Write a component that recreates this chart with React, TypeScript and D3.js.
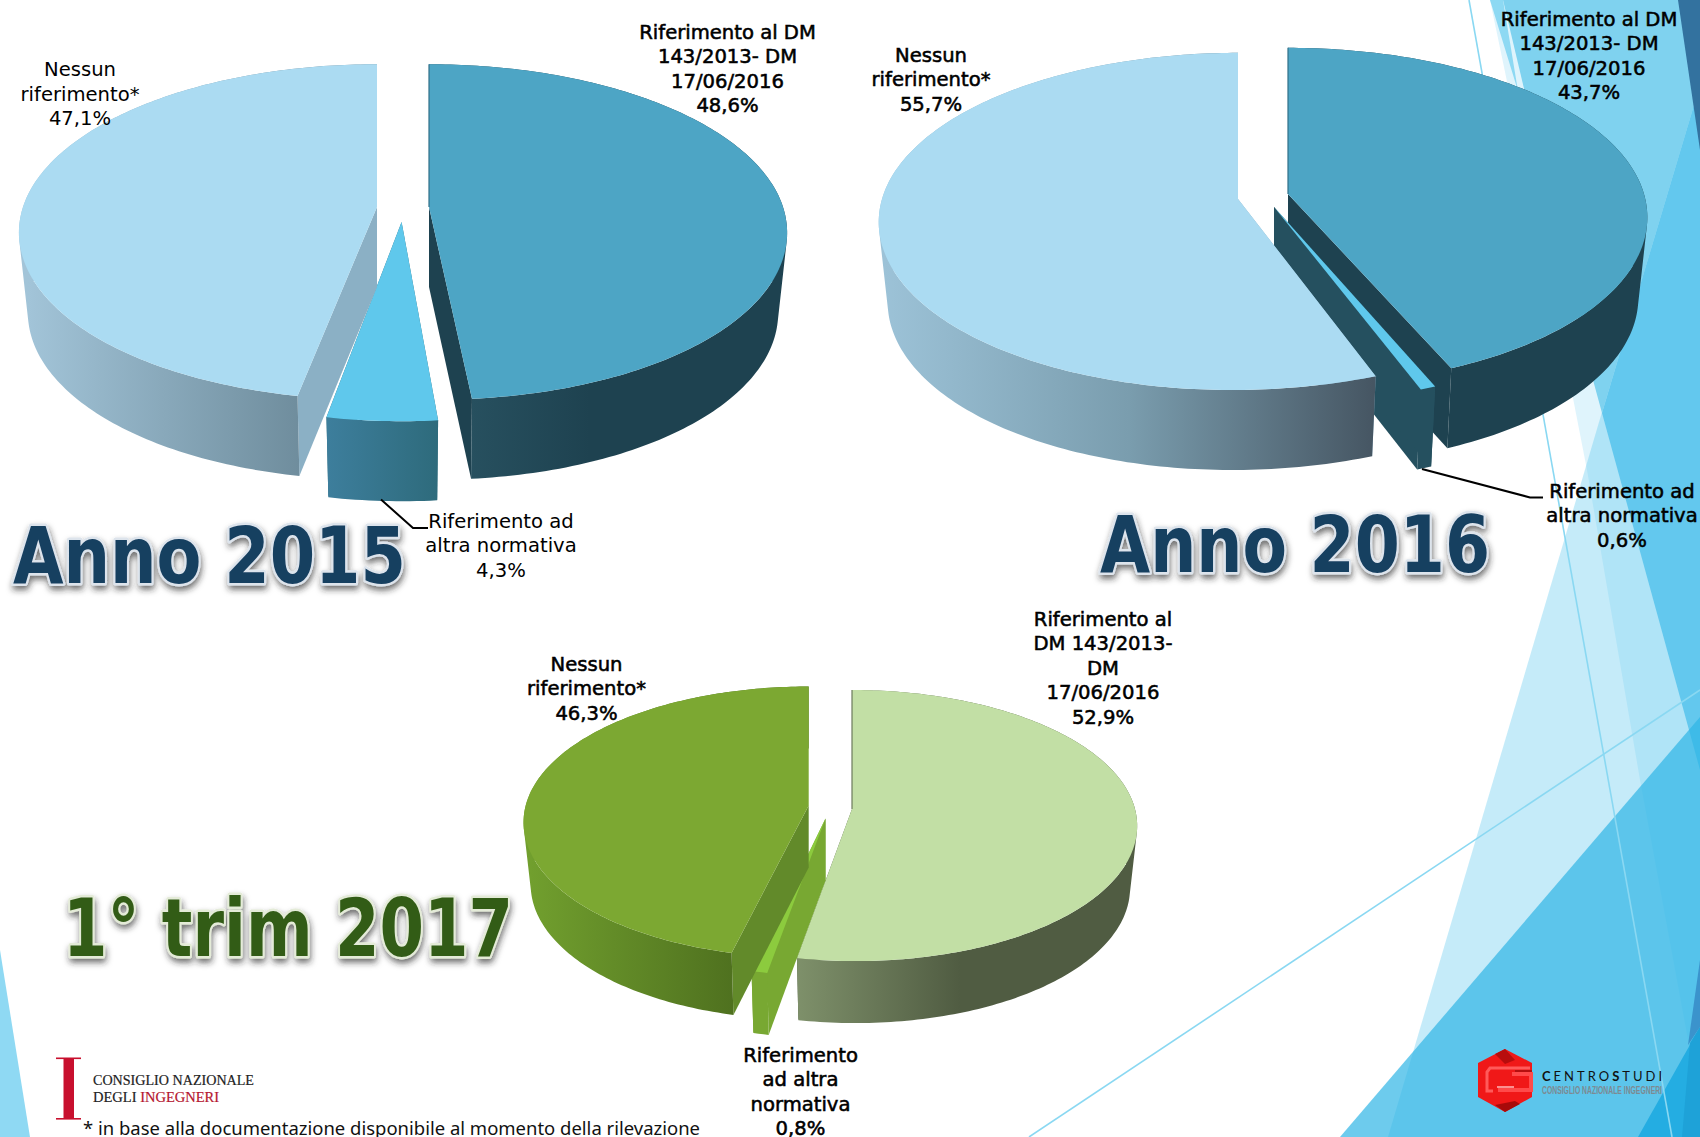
import React from "react";
import * as d3 from "d3";

// ---- data ----
const categories = ["Riferimento al DM 143/2013- DM 17/06/2016", "Riferimento ad altra normativa", "Nessun riferimento*"];
const values2015 = [48.6, 4.3, 47.1];
const values2016 = [43.7, 0.6, 55.7];
const values2017 = [52.9, 0.8, 46.3];
const titles = ["Anno 2015", "Anno 2016", "1° trim 2017"];
const labels2015 = [["Riferimento al DM", "143/2013- DM", "17/06/2016", "48,6%"], ["Riferimento ad", "altra normativa", "4,3%"], ["Nessun", "riferimento*", "47,1%"]];
const labels2016 = [["Riferimento al DM", "143/2013- DM", "17/06/2016", "43,7%"], ["Riferimento ad", "altra normativa", "0,6%"], ["Nessun", "riferimento*", "55,7%"]];
const labels2017 = [["Riferimento al", "DM 143/2013-", "DM", "17/06/2016", "52,9%"], ["Riferimento", "ad altra", "normativa", "0,8%"], ["Nessun", "riferimento*", "46,3%"]];
const footnote = "* in base alla documentazione disponibile al momento della rilevazione";

// ---- layout ----
type Grad = { x1: number; x2: number; stops: [number, string][] };
type SliceStyle = { apex: [number, number]; top: string; cut: string; wall: Grad; kx?: number; ky?: number; sh?: number; rim?: string };
type PieCfg = {
  id: string; values: number[]; labels: string[][];
  p: number; rx: number; ry: number; depth: number;
  slices: SliceStyle[];
  labelPos: { x: number; y: number; weight: number }[];
};

const pies: PieCfg[] = [
  {
    id: "a", values: values2015, labels: labels2015, p: 0.1488, rx: 354, ry: 164, depth: 80,
    slices: [
      { apex: [429, 207], sh: 6.5, rim: "#2f6f88", top: "#4da5c5", cut: "#1e4250", wall: { x1: 470, x2: 590, stops: [[0, "#27505f"], [1, "#1e4250"]] } },
      { apex: [401.6, 222], ky: 1.034, top: "#5fc8ec", cut: "#2e6b7c", wall: { x1: 328, x2: 437, stops: [[0, "#3d7e9c"], [1, "#2e6b7c"]] } },
      { apex: [377, 207], sh: -4.5, top: "#abdbf2", cut: "#8bb0c5", wall: { x1: 28, x2: 300, stops: [[0, "#a2c4d8"], [1, "#6f8d9d"]] } },
    ],
    labelPos: [{ x: 727.5, y: 38.5, weight: 0.55 }, { x: 501, y: 527.5, weight: 0 }, { x: 80, y: 76, weight: 0 }],
  },
  {
    id: "b", values: values2016, labels: labels2016, p: 0.133, rx: 356, ry: 165.6, depth: 80,
    slices: [
      { apex: [1288, 194], sh: 8, rim: "#2f6f88", top: "#4da5c5", cut: "#1e4250", wall: { x1: 1440, x2: 1640, stops: [[0, "#1e4250"], [1, "#1e4250"]] } },
      { apex: [1274, 207], kx: 1.03, ky: 1.03, top: "#5fc8ec", cut: "#25505f", wall: { x1: 1419, x2: 1433, stops: [[0, "#25505f"], [1, "#25505f"]] } },
      { apex: [1238, 199], sh: -5.5, top: "#abdbf2", cut: "#8bb0c5", wall: { x1: 885, x2: 1373, stops: [[0, "#9cc2d7"], [0.5, "#7a9dae"], [1, "#465663"]] } },
    ],
    labelPos: [{ x: 1589, y: 25.5, weight: 0.55 }, { x: 1622, y: 497.5, weight: 0.55 }, { x: 931, y: 61.5, weight: 0.55 }],
  },
  {
    id: "c", values: values2017, labels: labels2017, p: 0.122, rx: 283, ry: 133.5, depth: 62,
    slices: [
      { apex: [852, 809], sh: 3.3, rim: "#6c7a5c", top: "#c2dfa5", cut: "#505c42", wall: { x1: 798, x2: 960, stops: [[0, "#7e906a"], [1, "#505c42"]] } },
      { apex: [825.5, 818.5], ky: 1.035, top: "#8ccb3e", cut: "#78a832", wall: { x1: 750, x2: 767, stops: [[0, "#78a832"], [1, "#78a832"]] } },
      { apex: [808.7, 805.5], sh: -3.3, top: "#7ca832", cut: "#628a2a", wall: { x1: 530, x2: 733, stops: [[0, "#719f2e"], [1, "#4f711f"]] } },
    ],
    labelPos: [{ x: 1103, y: 625.5, weight: 0.55 }, { x: 800.5, y: 1061.5, weight: 0.55 }, { x: 586.5, y: 670.5, weight: 0.55 }],
  },
];

const titleCfg = [
  { x: 13, y: 583, w: 393, size: 78, fill: "#183f60", edge: "#dde4ec" },
  { x: 1100, y: 572, w: 390, size: 78, fill: "#183f60", edge: "#dde4ec" },
  { x: 63, y: 956, w: 450, size: 80, fill: "#335c18", edge: "#e4ebd8" },
];

const LABEL_FONT = "'DejaVu Sans', sans-serif";
const pieGen = d3.pie<number>().sort(null).value((d) => d).startAngle(0).endAngle(2 * Math.PI);
const lineGen = d3.line<[number, number]>();

function project(cfg: PieCfg, s: SliceStyle, angle: number, bottom: boolean): [number, number] {
  const u = Math.sin(angle);
  const v = -Math.cos(angle);
  const w = 1 - cfg.p * v;
  const sx = bottom ? 0.975 : 1;
  const shear = v > 0 ? (s.sh ?? 0) * v * v : 0;
  return [
    s.apex[0] + (s.kx ?? 1) * ((sx * cfg.rx * u) / w) + shear,
    s.apex[1] + (bottom ? cfg.depth : 0) + (s.ky ?? 1) * ((cfg.ry * v) / w),
  ];
}

function arcPts(cfg: PieCfg, s: SliceStyle, a0: number, a1: number, bottom: boolean) {
  const n = Math.max(2, Math.ceil(((a1 - a0) * 180) / Math.PI));
  return d3.range(n + 1).map((i) => project(cfg, s, a0 + ((a1 - a0) * i) / n, bottom));
}

// the outer wall as a union of consistently wound quads, so the silhouette tangents are filled
function wallPath(top: [number, number][], bot: [number, number][]) {
  const parts: string[] = [];
  for (let i = 0; i < top.length - 1; i++) {
    const q: [number, number][] = [top[i], top[i + 1], bot[i + 1], bot[i]];
    if (d3.polygonArea(q) < 0) q.reverse();
    parts.push(lineGen(q) + "Z");
  }
  return parts.join("");
}

function Pie({ cfg }: { cfg: PieCfg }) {
  const arcs = pieGen(cfg.values);
  return (
    <g>
      <defs>
        {cfg.slices.map((s, i) => (
          <linearGradient key={i} id={`wall-${cfg.id}-${i}`} gradientUnits="userSpaceOnUse" x1={s.wall.x1} x2={s.wall.x2} y1={0} y2={0}>
            {s.wall.stops.map(([o, c], j) => <stop key={j} offset={o} stopColor={c} />)}
          </linearGradient>
        ))}
      </defs>
      {arcs.map((a, i) => {
        const s = cfg.slices[i];
        const apexB: [number, number] = [s.apex[0], s.apex[1] + cfg.depth];
        const top = arcPts(cfg, s, a.startAngle, a.endAngle, false);
        const bot = arcPts(cfg, s, a.startAngle, a.endAngle, true);
        const face = (k: number) => lineGen([s.apex, top[k], bot[k], apexB]) + "Z";
        return (
          <g key={i}>
            <path d={face(top.length - 1)} fill={s.cut} />
            <path d={face(0)} fill={s.cut} />
            <path d={wallPath(top, bot)} fill={`url(#wall-${cfg.id}-${i})`} />
            <path d={lineGen([s.apex, ...top]) + "Z"} fill={s.top} />
            {s.rim && <path d={lineGen([s.apex, top[0]]) ?? ""} stroke={s.rim} strokeWidth={1.2} fill="none" />}
          </g>
        );
      })}
      {cfg.labels.map((lines, i) => (
        <g key={i}>
          {lines.map((t, j) => (
            <text key={j} x={cfg.labelPos[i].x} y={cfg.labelPos[i].y + j * 24.5} textAnchor="middle"
              fontFamily={LABEL_FONT} fontSize={19.6} fill="#000" stroke="#000" strokeWidth={cfg.labelPos[i].weight}>{t}</text>
          ))}
        </g>
      ))}
    </g>
  );
}

const poly = (pts: number[][]) => pts.map((p) => p.join(",")).join(" ");

export default function App() {
  return (
    <svg width={1700} height={1137} viewBox="0 0 1700 1137" style={{ position: "absolute", left: 0, top: 0, display: "block", background: "#fff" }}>
      <defs>
        <filter id="ts" x="-10%" y="-30%" width="120%" height="170%">
          <feDropShadow dx={1} dy={4} stdDeviation={3} floodColor="#222" floodOpacity={0.65} />
        </filter>
      </defs>
      {/* background decoration */}
      <polygon points={poly([[0, 950], [30, 1137], [0, 1137]])} fill="#8fd9f3" />
      <polygon points={poly([[1490, 0], [1700, 0], [1700, 1105], [1640, 780], [1587, 470], [1572, 393]])} fill="#5fc8ee" opacity={0.2} />
      <polygon points={poly([[1700, 80], [1700, 1137], [1388, 1137]])} fill="#5fc8ee" opacity={0.36} />
      <polygon points={poly([[1490, 0], [1503, 0], [1517, 85], [1530, 130]])} fill="#8dd9f3" />
      <polygon points={poly([[1503, 0], [1700, 0], [1700, 85], [1602, 413], [1593, 380]])} fill="#7fd2ef" />
      <polygon points={poly([[1700, 85], [1700, 770], [1602, 413]])} fill="#63c8ee" />
      <polygon points={poly([[1678, 0], [1700, 0], [1700, 150]])} fill="#33729f" />
      <polygon points={poly([[1340, 1137], [1700, 717], [1700, 1137]])} fill="#2fb5e6" opacity={0.7} />
      <polygon points={poly([[1638, 1137], [1700, 1027], [1700, 1137]])} fill="#24ade2" />
      <polygon points={poly([[1682, 1137], [1690, 1043], [1700, 1027], [1700, 1137]])} fill="#1ea2d8" />
      <polygon points={poly([[1700, 960], [1688, 1045], [1700, 1027]])} fill="#3b93cc" />
      <line x1={1469} y1={0} x2={1672} y2={1137} stroke="#8ad8f2" strokeWidth={1.6} />
      <line x1={1029} y1={1137} x2={1700} y2={690} stroke="#8ad8f2" strokeWidth={1.6} />

      {pies.map((p) => <Pie key={p.id} cfg={p} />)}

      {/* leader lines */}
      <polyline points={poly([[381, 499.5], [413, 528], [428, 528]])} fill="none" stroke="#000" strokeWidth={2} />
      <polyline points={poly([[1422, 469], [1530, 497.5], [1543, 497.5]])} fill="none" stroke="#000" strokeWidth={2.2} />

      {/* titles */}
      {titles.map((t, i) => {
        const c = titleCfg[i];
        return (
          <g key={t} filter="url(#ts)">
            <text x={c.x} y={c.y} fontFamily={LABEL_FONT} fontWeight={700} fontSize={c.size} textLength={c.w} lengthAdjust="spacingAndGlyphs"
              fill={c.fill} stroke={c.edge} strokeWidth={5} strokeLinejoin="round" style={{ paintOrder: "stroke" }}>{t}</text>
          </g>
        );
      })}

      {/* footer left */}
      <g fill="#c8102e">
        <rect x={56} y={1057.5} width={25} height={1.6} />
        <rect x={56} y={1118} width={25} height={1.6} />
        <rect x={63.5} y={1058} width={10.5} height={61} />
      </g>
      <text x={93} y={1085} fontFamily="'Liberation Serif', serif" fontSize={14.5} textLength={161} lengthAdjust="spacingAndGlyphs" fill="#222" stroke="#222" strokeWidth={0.2}>CONSIGLIO NAZIONALE</text>
      <text x={93} y={1102} fontFamily="'Liberation Serif', serif" fontSize={14.5} fill="#222" stroke="#222" strokeWidth={0.2}>DEGLI <tspan fill="#b5162f" stroke="#b5162f">INGEGNERI</tspan></text>
      <text x={83} y={1135} fontFamily="'Noto Sans', sans-serif" fontSize={18} textLength={617} lengthAdjust="spacingAndGlyphs" fill="#111">{footnote}</text>

      {/* footer right */}
      <polygon points={poly([[1505, 1049], [1532, 1063], [1532, 1097], [1505, 1112], [1478, 1097], [1478, 1063]])} fill="#f01818" />
      <polygon points={poly([[1505, 1049], [1495, 1054], [1505, 1064], [1515, 1060]])} fill="#b80d0d" />
      <polygon points={poly([[1505, 1112], [1495, 1105], [1515, 1101], [1520, 1104]])} fill="#a80a0a" />
      <polyline points={poly([[1530, 1068], [1490, 1068], [1487, 1072], [1487, 1091], [1493, 1091]])} fill="none" stroke="#ff5a5a" strokeWidth={3} />
      <polyline points={poly([[1512, 1074], [1531, 1074], [1531, 1090], [1498, 1090]])} fill="none" stroke="#ff4a4a" strokeWidth={4} />
      <polyline points={poly([[1515, 1071], [1532, 1071]])} fill="none" stroke="#8e0b0b" strokeWidth={1.2} />
      <polyline points={poly([[1497, 1087], [1514, 1087]])} fill="none" stroke="#ffc6c6" strokeWidth={1.4} />
      <text x={1542} y={1081} fontFamily="Lato, sans-serif" fontSize={13} letterSpacing={3} fill="#111">
        <tspan fontWeight={700}>C</tspan>ENTRO<tspan fontWeight={700}>S</tspan>TUDI
      </text>
      <text x={1542} y={1094} fontFamily="'Liberation Sans', sans-serif" fontWeight={700} fontSize={10.5} textLength={120} lengthAdjust="spacingAndGlyphs" fill="#7d8a92">CONSIGLIO NAZIONALE INGEGNERI</text>
      <title>{categories.join(" / ")}</title>
    </svg>
  );
}
